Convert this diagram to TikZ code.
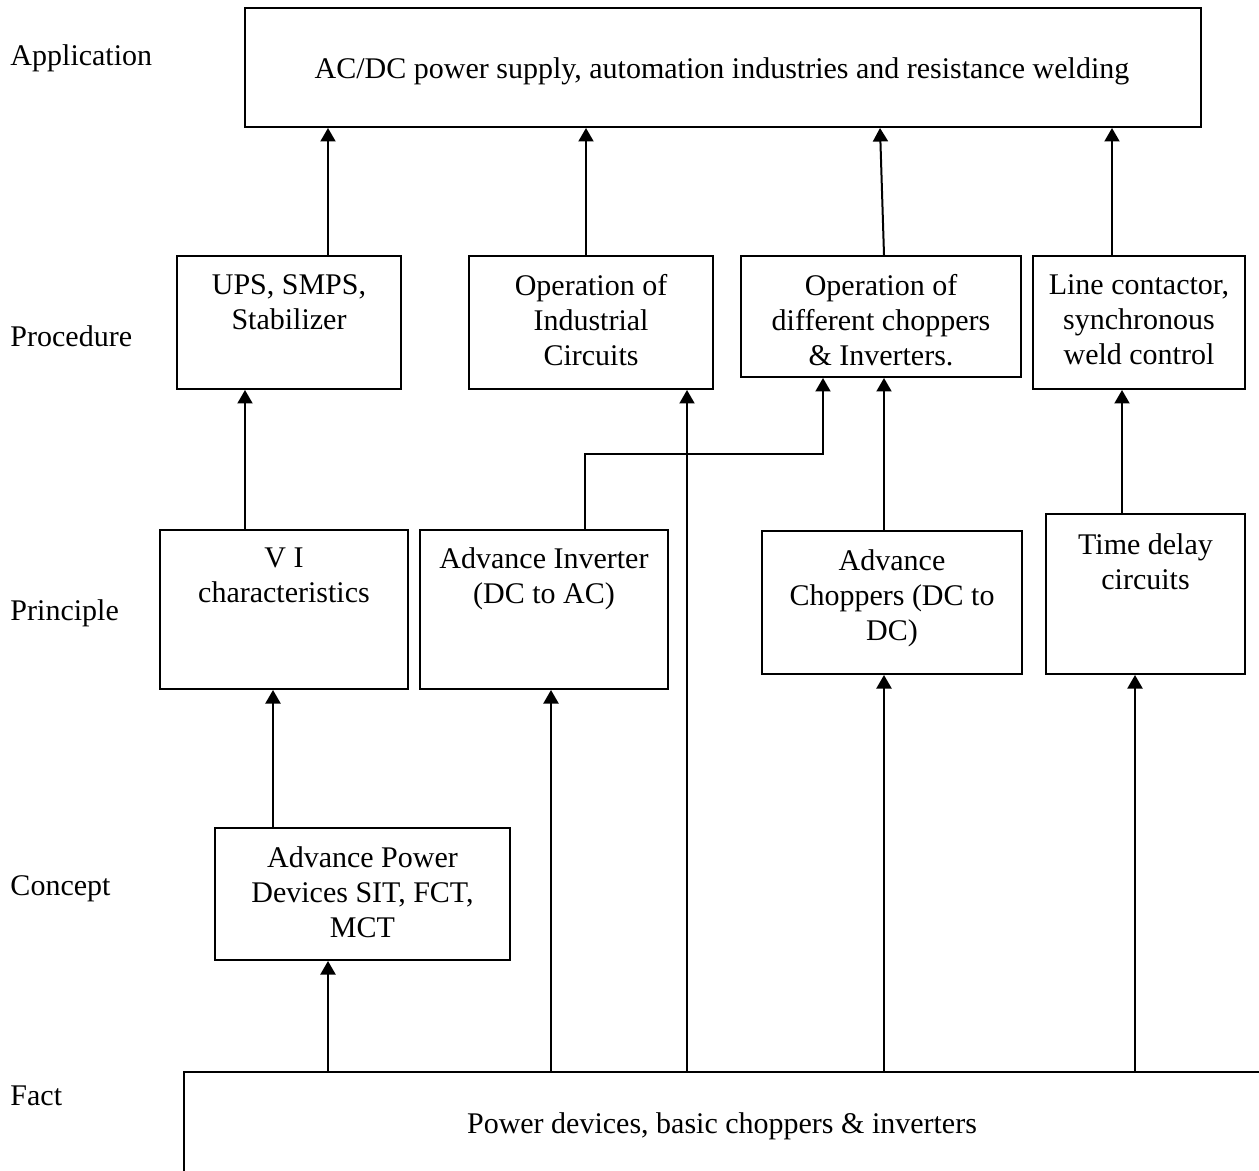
\documentclass[tikz,border=0pt]{standalone}
\usepackage{fontspec}
\setmainfont{Liberation Serif}
\usepackage{tikz}
\usetikzlibrary{arrows.meta, positioning, calc}
\tikzset{%
	blk/.style={draw, rectangle, line width=0.8pt, inner sep=0pt},
	txt/.style={align=center, inner sep=0pt, font=\fontsize{12}{14}\selectfont,%
		execute at begin node=\strut},
	lvl/.style={anchor=west, inner sep=0pt, font=\fontsize{12}{14}\selectfont},
	sel/.style={-{Triangle[length=5.4pt, width=6pt]}, line width=0.8pt}
}
\begin{document}
\begin{tikzpicture}[x=0.4pt, y=-0.4pt]
	\useasboundingbox (0,0) rectangle (1259,1171);
	% levels
	\node[lvl] (l-app) at (10,58) {Application};
	\node[lvl] (l-proc) at (10,336) {Procedure};
	\node[lvl] (l-prin) at (10,613) {Principle};
	\node[lvl] (l-conc) at (10,889) {Concept};
	\node[lvl] (l-fact) at (10,1096) {Fact};
	% boxes
	\node[blk, minimum width=382.4pt, minimum height=47.6pt] (app) at (723,67.5) {};
	\node[blk, minimum width=89.6pt, minimum height=53.2pt] (ups) at (289,322.5) {};
	\node[blk, minimum width=97.6pt, minimum height=53.2pt] (ind) at (591,322.5) {};
	\node[blk, minimum width=112pt, minimum height=48.4pt] (chop) at (881,316.5) {};
	\node[blk, minimum width=84.8pt, minimum height=53.2pt] (line) at (1139,322.5) {};
	\node[blk, minimum width=99.2pt, minimum height=63.6pt] (vi) at (284,609.5) {};
	\node[blk, minimum width=99.2pt, minimum height=63.6pt] (inv) at (544,609.5) {};
	\node[blk, minimum width=104pt, minimum height=57.2pt] (advch) at (892,602.5) {};
	\node[blk, minimum width=79.6pt, minimum height=64pt] (delay) at (1145.5,594) {};
	\node[blk, minimum width=118pt, minimum height=52.8pt] (dev) at (362.5,894) {};
	\node[blk, minimum width=446.4pt, minimum height=71.2pt] (fact) at (742,1161) {};
	% texts
	\node[txt] (app-t) at (722,72) {AC/DC power supply, automation industries and resistance welding};
	\node[txt] (ups-t) [below=7.6pt of ups.north] {UPS, SMPS,\\ Stabilizer};
	\node[txt] (ind-t) [below=7.6pt of ind.north] {Operation of\\ Industrial\\ Circuits};
	\node[txt] (chop-t) [below=7.6pt of chop.north] {Operation of\\ different choppers\\ \& Inverters.};
	\node[txt] (line-t) [below=7.6pt of line.north] {Line contactor,\\ synchronous\\ weld control};
	\node[txt] (vi-t) [below=7.4pt of vi.north] {V I\\ characteristics};
	\node[txt] (inv-t) [below=7.4pt of inv.north] {Advance Inverter\\ (DC to AC)};
	\node[txt] (advch-t) [below=7.6pt of advch.north] {Advance\\ Choppers (DC to\\ DC)};
	\node[txt] (delay-t) [below=8pt of delay.north] {Time delay\\ circuits};
	\node[txt] (dev-t) [below=7.6pt of dev.north] {Advance Power\\ Devices SIT, FCT,\\ MCT};
	\node[txt] (fact-t) at (722,1126) {Power devices, basic choppers \& inverters};
	% fact upwards
	\draw [sel] (328,0 |- fact.north) -- (328,0 |- dev.south);
	\draw [sel] (551,0 |- fact.north) -- (551,0 |- inv.south);
	\draw [sel] (687,0 |- fact.north) -- (687,0 |- ind.south);
	\draw [sel] (884,0 |- fact.north) -- (884,0 |- advch.south);
	\draw [sel] (1135,0 |- fact.north) -- (1135,0 |- delay.south);
	% concept and principle upwards
	\draw [sel] (273,0 |- dev.north) -- (273,0 |- vi.south);
	\draw [sel] (245,0 |- vi.north) -- (245,0 |- ups.south);
	\draw [sel] (585,0 |- inv.north) |- (823,454) -- (823,0 |- chop.south);
	\draw [sel] (884,0 |- advch.north) -- (884,0 |- chop.south);
	\draw [sel] (1122,0 |- delay.north) -- (1122,0 |- line.south);
	% procedure to application
	\draw [sel] (328,0 |- ups.north) -- (328,0 |- app.south);
	\draw [sel] (586,0 |- ind.north) -- (586,0 |- app.south);
	\draw [sel] (884,0 |- chop.north) -- (880,0 |- app.south);
	\draw [sel] (1112,0 |- line.north) -- (1112,0 |- app.south);
\end{tikzpicture}
\end{document}
